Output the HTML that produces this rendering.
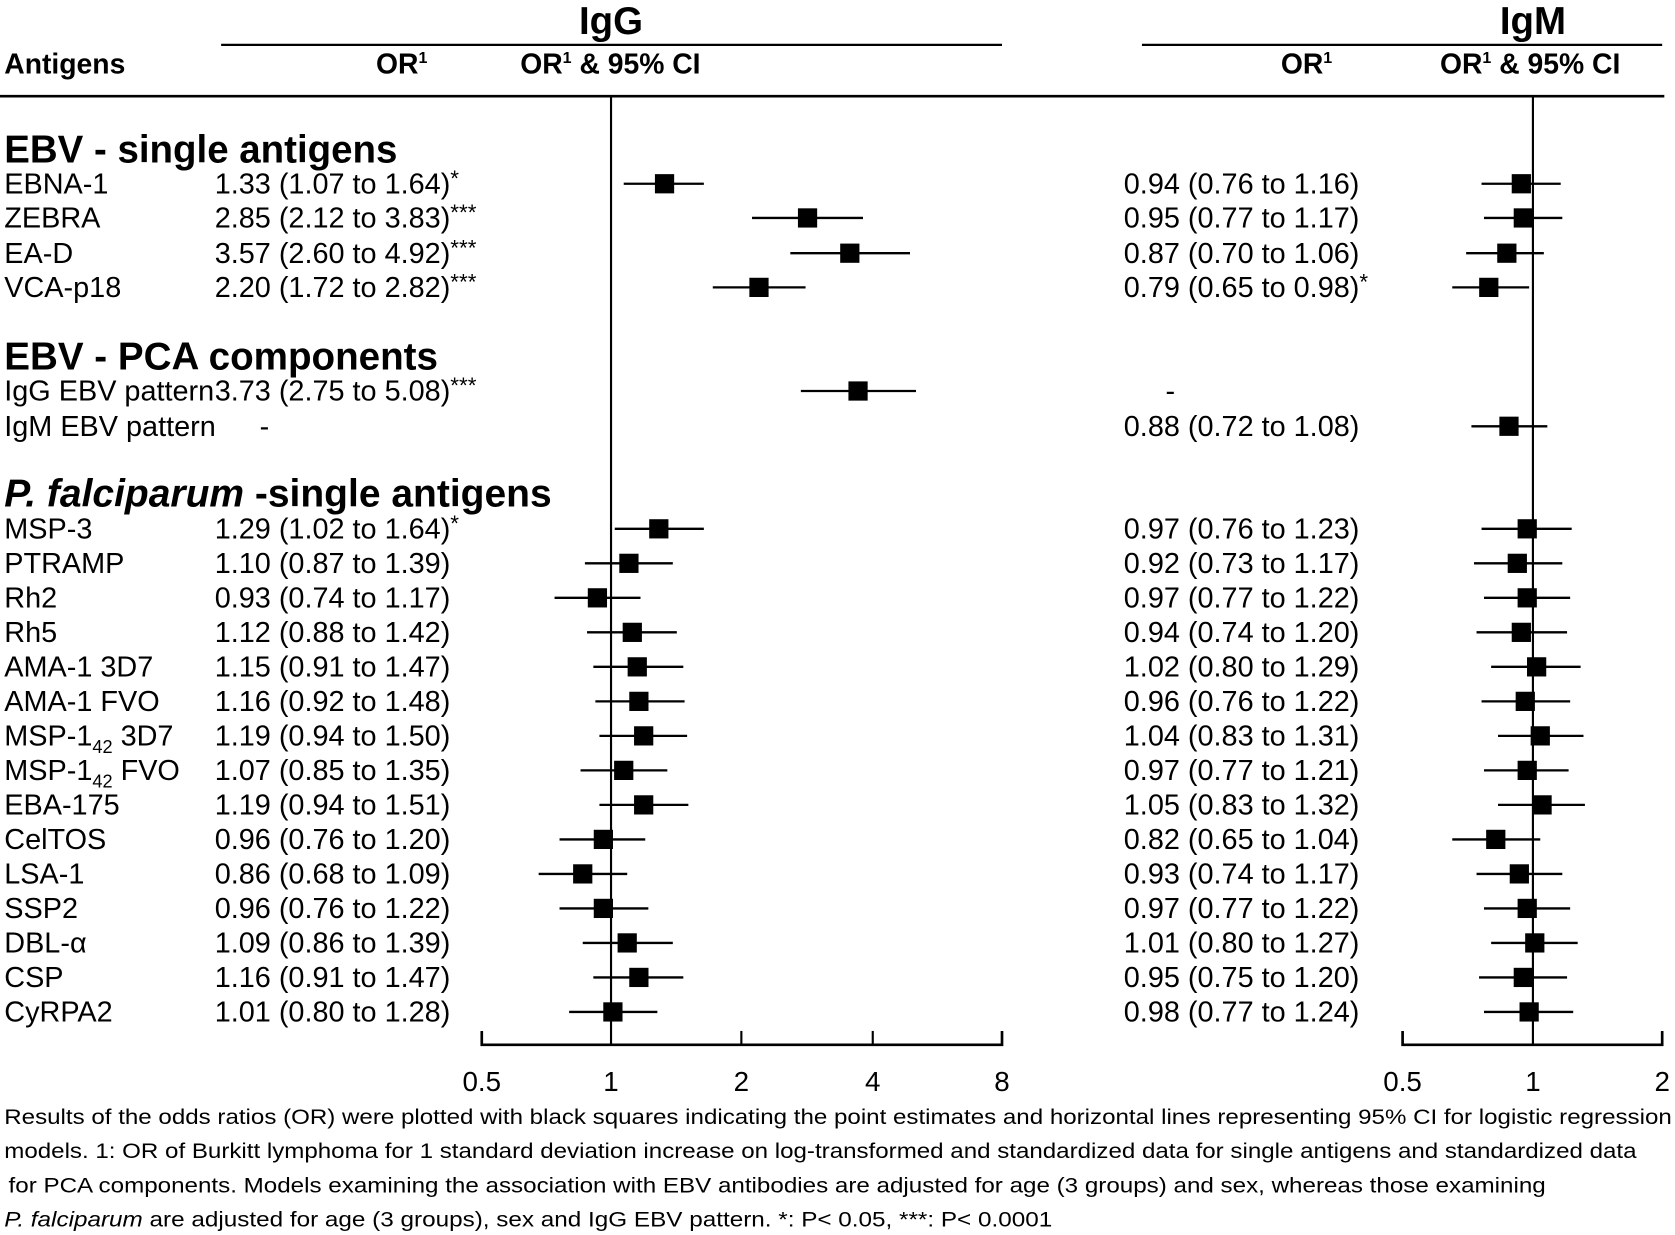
<!DOCTYPE html>
<html><head><meta charset="utf-8"><style>
html,body{margin:0;padding:0;background:#fff;}
svg{display:block;}
text{font-family:"Liberation Sans",Arial,sans-serif;fill:#000;}
</style></head><body>
<svg id="s" xmlns="http://www.w3.org/2000/svg" width="1675" height="1235" viewBox="0 0 1568 1156" preserveAspectRatio="none">
<g stroke="#000" fill="none">
<line x1="207" y1="42" x2="938" y2="42" stroke-width="2"/>
<line x1="1069" y1="42" x2="1556" y2="42" stroke-width="2"/>
<line x1="0" y1="90" x2="1558" y2="90" stroke-width="2.5"/>
<line x1="572" y1="90" x2="572" y2="978" stroke-width="2"/>
<line x1="1435" y1="90" x2="1435" y2="978" stroke-width="2"/>
<polyline points="451,965 451,978 938,978 938,965" stroke-width="2.5"/>
<line x1="694" y1="965" x2="694" y2="978" stroke-width="2"/>
<line x1="817" y1="965" x2="817" y2="978" stroke-width="2"/>
<polyline points="1313,965 1313,978 1556,978 1556,965" stroke-width="2.5"/>
</g>
<text x="572" y="32" font-size="36" font-weight="bold" text-anchor="middle">IgG</text>
<text x="1435" y="32" font-size="36" font-weight="bold" text-anchor="middle">IgM</text>
<g font-size="26.5" font-weight="bold">
<text x="4" y="69">Antigens</text>
<text x="352" y="69">OR<tspan font-size="15" dy="-10">1</tspan></text>
<text x="487" y="69">OR<tspan font-size="15" dy="-10">1</tspan><tspan dy="10"> &amp; 95% CI</tspan></text>
<text x="1199" y="69">OR<tspan font-size="15" dy="-10">1</tspan></text>
<text x="1348" y="69">OR<tspan font-size="15" dy="-10">1</tspan><tspan dy="10"> &amp; 95% CI</tspan></text>
</g>
<g font-size="36" font-weight="bold">
<text x="4" y="152" textLength="368" lengthAdjust="spacingAndGlyphs">EBV - single antigens</text>
<text x="4" y="346" textLength="406" lengthAdjust="spacingAndGlyphs">EBV - PCA components</text>
<text x="4" y="474" font-size="36.5"><tspan font-style="italic">P. falciparum</tspan> -single antigens</text>
</g>
<g font-size="26" text-anchor="middle">
<text x="451" y="1021">0.5</text><text x="572" y="1021">1</text><text x="694" y="1021">2</text><text x="817" y="1021">4</text><text x="938" y="1021">8</text>
<text x="1313" y="1021">0.5</text><text x="1435" y="1021">1</text><text x="1556" y="1021">2</text>
</g>
<g font-size="20">
<text x="4" y="1052" textLength="1561" lengthAdjust="spacingAndGlyphs">Results of the odds ratios (OR) were plotted with black squares indicating the point estimates and horizontal lines representing 95% CI for logistic regression</text>
<text x="4" y="1084" textLength="1528" lengthAdjust="spacingAndGlyphs">models. 1: OR of Burkitt lymphoma for 1 standard deviation increase on log-transformed and standardized data for single antigens and standardized data</text>
<text x="8" y="1116" textLength="1439" lengthAdjust="spacingAndGlyphs">for PCA components. Models examining the association with EBV antibodies are adjusted for age (3 groups) and sex, whereas those examining</text>
<text x="4" y="1148" textLength="981" lengthAdjust="spacingAndGlyphs"><tspan font-style="italic">P. falciparum</tspan>  are adjusted for age (3 groups), sex and IgG EBV pattern. *: P&lt; 0.05, ***: P&lt; 0.0001</text>
</g>
<g id="rows" font-size="27"></g>
</svg>
<script>
var rows=[
[172,"EBNA-1",[1.33,1.07,1.64,"*"],[0.94,0.76,1.16,""]],
[204,"ZEBRA",[2.85,2.12,3.83,"***"],[0.95,0.77,1.17,""]],
[237,"EA-D",[3.57,2.60,4.92,"***"],[0.87,0.70,1.06,""]],
[269,"VCA-p18",[2.20,1.72,2.82,"***"],[0.79,0.65,0.98,"*"]],
[366,"IgG EBV pattern",[3.73,2.75,5.08,"***"],null],
[399,"IgM EBV pattern",null,[0.88,0.72,1.08,""]],
[495,"MSP-3",[1.29,1.02,1.64,"*"],[0.97,0.76,1.23,""]],
[0,"PTRAMP",[1.10,0.87,1.39,""],[0.92,0.73,1.17,""]],
[0,"Rh2",[0.93,0.74,1.17,""],[0.97,0.77,1.22,""]],
[0,"Rh5",[1.12,0.88,1.42,""],[0.94,0.74,1.20,""]],
[0,"AMA-1 3D7",[1.15,0.91,1.47,""],[1.02,0.80,1.29,""]],
[0,"AMA-1 FVO",[1.16,0.92,1.48,""],[0.96,0.76,1.22,""]],
[0,"MSP-1|3D7",[1.19,0.94,1.50,""],[1.04,0.83,1.31,""]],
[0,"MSP-1|FVO",[1.07,0.85,1.35,""],[0.97,0.77,1.21,""]],
[0,"EBA-175",[1.19,0.94,1.51,""],[1.05,0.83,1.32,""]],
[0,"CelTOS",[0.96,0.76,1.20,""],[0.82,0.65,1.04,""]],
[0,"LSA-1",[0.86,0.68,1.09,""],[0.93,0.74,1.17,""]],
[0,"SSP2",[0.96,0.76,1.22,""],[0.97,0.77,1.22,""]],
[0,"DBL-α",[1.09,0.86,1.39,""],[1.01,0.80,1.27,""]],
[0,"CSP",[1.16,0.91,1.47,""],[0.95,0.75,1.20,""]],
[0,"CyRPA2",[1.01,0.80,1.28,""],[0.98,0.77,1.24,""]]];
var h="";
function f(v){return v.toFixed(2);}
function L(v){return Math.log(v)/Math.LN2;}
rows.forEach(function(r,i){
 var y=r[0]; if(i>=6){y=495+(i-6)*32.3;}
 var ty=y+9;
 var lab=r[1];
 if(lab.indexOf("|")>=0){var p=lab.split("|");lab=p[0]+'<tspan font-size="17" dy="7">42</tspan><tspan dy="-7"> '+p[1]+'</tspan>';}
 h+='<text x="4" y="'+ty+'">'+lab+'</text>';
 function side(d,tx,x0,sc){
  var t=f(d[0])+' ('+f(d[1])+' to '+f(d[2])+')';
  h+='<text x="'+tx+'" y="'+ty+'">'+t+(d[3]?'<tspan font-size="21" dy="-7">'+d[3]+'</tspan>':'')+'</text>';
  var a=x0+sc*L(d[1]),b=x0+sc*L(d[2]),c=x0+sc*L(d[0]);
  h+='<line x1="'+a+'" y1="'+y+'" x2="'+b+'" y2="'+y+'" stroke="#000" stroke-width="2.2"/>';
  h+='<rect x="'+(c-9)+'" y="'+(y-9)+'" width="18" height="18" fill="#000"/>';
 }
 if(r[2]) side(r[2],201,572,121.75); else h+='<text x="243" y="'+ty+'">-</text>';
 if(r[3]) side(r[3],1052,1435,121.5); else h+='<text x="1091" y="'+ty+'">-</text>';
});
document.getElementById("rows").innerHTML=h;
</script>
</body></html>
